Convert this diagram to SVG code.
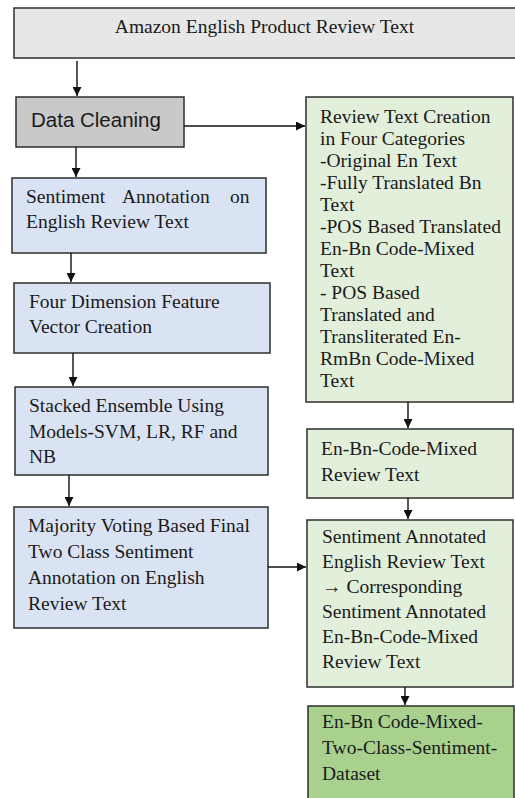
<svg xmlns="http://www.w3.org/2000/svg" width="515" height="798" viewBox="0 0 515 798">
  <style>
    .box { stroke: #2e2e2e; stroke-width: 1.5; }
    .title { fill: #e7e7e7; }
    .clean { fill: #c9c9c9; }
    .blue { fill: #dae3f3; }
    .lgreen { fill: #e2efda; }
    .dgreen { fill: #a9d18e; }
    .t { font-family: "Liberation Serif", "Times New Roman", serif; font-size: 19.5px; fill: #1a1a1a; }
    .s { font-family: "Liberation Sans", Arial, sans-serif; font-size: 20.5px; fill: #1a1a1a; }
    .edge { stroke: #111; stroke-width: 1.4; fill: none; marker-end: url(#head); }
  </style>
  <defs>
    <marker id="head" viewBox="0 0 10 10" refX="10" refY="5" markerWidth="9" markerHeight="9" markerUnits="userSpaceOnUse" orient="auto">
      <path d="M0,0 L10,5 L0,10 z" fill="#111"/>
    </marker>
  </defs>
  <rect width="515" height="798" fill="#ffffff"/>

  <g id="source">
    <rect class="box title" x="14" y="8" width="510" height="50"/>
    <text class="t" x="264.5" y="33" text-anchor="middle">Amazon English Product Review Text</text>
  </g>

  <g id="cleaning">
    <rect class="box clean" x="16" y="97" width="168" height="50"/>
    <text class="s" x="31" y="127">Data Cleaning</text>
  </g>

  <g id="annotation">
    <rect class="box blue" x="12" y="178" width="254" height="75"/>
    <text class="t" y="203"><tspan x="26">Sentiment</tspan><tspan x="122">Annotation</tspan><tspan x="230">on</tspan></text>
    <text class="t" x="26" y="228">English Review Text</text>
  </g>

  <g id="features">
    <rect class="box blue" x="14" y="283" width="256" height="70"/>
    <text class="t" x="29" y="308">Four Dimension Feature</text>
    <text class="t" x="29" y="333">Vector Creation</text>
  </g>

  <g id="ensemble">
    <rect class="box blue" x="15" y="387" width="253" height="88"/>
    <text class="t" x="29" y="412">Stacked Ensemble Using</text>
    <text class="t" x="29" y="438">Models-SVM, LR, RF and</text>
    <text class="t" x="29" y="463">NB</text>
  </g>

  <g id="voting">
    <rect class="box blue" x="14" y="507" width="254" height="121"/>
    <text class="t" x="28" y="532">Majority Voting Based Final</text>
    <text class="t" x="28" y="558">Two Class Sentiment</text>
    <text class="t" x="28" y="584">Annotation on English</text>
    <text class="t" x="28" y="610">Review Text</text>
  </g>

  <g id="categories">
    <rect class="box lgreen" x="306" y="97" width="207" height="305"/>
    <text class="t" x="320">
      <tspan x="320" y="123">Review Text Creation</tspan>
      <tspan x="320" y="145">in Four Categories</tspan>
      <tspan x="320" y="167">-Original En Text</tspan>
      <tspan x="320" y="189">-Fully Translated Bn</tspan>
      <tspan x="320" y="211">Text</tspan>
      <tspan x="320" y="233">-POS Based Translated</tspan>
      <tspan x="320" y="255">En-Bn Code-Mixed</tspan>
      <tspan x="320" y="277">Text</tspan>
      <tspan x="320" y="299">- POS Based</tspan>
      <tspan x="320" y="321">Translated and</tspan>
      <tspan x="320" y="343">Transliterated En-</tspan>
      <tspan x="320" y="365">RmBn Code-Mixed</tspan>
      <tspan x="320" y="387">Text</tspan>
    </text>
  </g>

  <g id="codemixed">
    <rect class="box lgreen" x="307" y="429" width="206" height="69"/>
    <text class="t" x="321" y="455">En-Bn-Code-Mixed</text>
    <text class="t" x="321" y="481">Review Text</text>
  </g>

  <g id="mapping">
    <rect class="box lgreen" x="307" y="520" width="206" height="167"/>
    <text class="t">
      <tspan x="322" y="543">Sentiment Annotated</tspan>
      <tspan x="322" y="568">English Review Text</tspan>
      <tspan x="322" y="593">→ Corresponding</tspan>
      <tspan x="322" y="618">Sentiment Annotated</tspan>
      <tspan x="322" y="643">En-Bn-Code-Mixed</tspan>
      <tspan x="322" y="668">Review Text</tspan>
    </text>
  </g>

  <g id="dataset">
    <rect class="box dgreen" x="308" y="706" width="206" height="100"/>
    <text class="t">
      <tspan x="322" y="728">En-Bn Code-Mixed-</tspan>
      <tspan x="322" y="754">Two-Class-Sentiment-</tspan>
      <tspan x="322" y="780">Dataset</tspan>
    </text>
  </g>

  <g id="connectors">
    <line class="edge" x1="77" y1="61" x2="77" y2="96"/>
    <line class="edge" x1="184" y1="126" x2="305" y2="126"/>
    <line class="edge" x1="76" y1="147" x2="76" y2="177"/>
    <line class="edge" x1="71" y1="253" x2="71" y2="282"/>
    <line class="edge" x1="73" y1="353" x2="73" y2="386"/>
    <line class="edge" x1="69" y1="475" x2="69" y2="506"/>
    <line class="edge" x1="268" y1="567" x2="306" y2="567"/>
    <line class="edge" x1="408" y1="402" x2="408" y2="428"/>
    <line class="edge" x1="408" y1="498" x2="408" y2="519"/>
    <line class="edge" x1="405" y1="687" x2="405" y2="705"/>
  </g>
</svg>
